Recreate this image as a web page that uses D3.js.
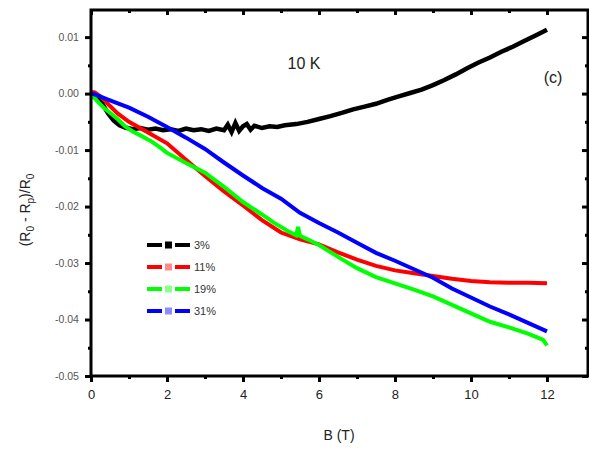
<!DOCTYPE html>
<html><head><meta charset="utf-8">
<script src="https://cdn.jsdelivr.net/npm/d3@7"></script>
<style>body{margin:0;background:#fff}svg{display:block}</style>
</head><body>
<svg id="c" width="589" height="452"></svg>
<script>
// ---- data ----
const xTicks = [0, 2, 4, 6, 8, 10, 12];
const yTicks = [0.01, 0.00, -0.01, -0.02, -0.03, -0.04, -0.05];
const yTickLabels = ["0.01", "0.00", "-0.01", "-0.02", "-0.03", "-0.04", "-0.05"];
const seriesNames = ["3%", "11%", "19%", "31%"];
const seriesColors = ["#000000", "#ff0000", "#00ff00", "#0000ff"];

const b3 = [0,0.15,0.3,0.45,0.6,0.75,0.9,1.1,1.3,1.5,1.7,1.9,2.1,2.3,2.5,2.7,2.9,3.1,3.3,3.5,3.6,3.7,3.8,3.9,4.0,4.1,4.2,4.3,4.5,4.7,4.9,5.1,5.4,5.7,6.0,6.3,6.6,6.9,7.2,7.5,7.8,8.1,8.4,8.7,9.0,9.3,9.6,9.9,10.2,10.5,10.8,11.1,11.4,11.7,12.0];
const v3 = [0,-0.0005,-0.0018,-0.0035,-0.0048,-0.0056,-0.006,-0.0063,-0.0061,-0.0064,-0.0062,-0.0065,-0.0063,-0.0066,-0.0062,-0.0065,-0.0063,-0.0066,-0.0062,-0.0065,-0.0055,-0.0068,-0.0052,-0.0066,-0.0058,-0.0054,-0.0064,-0.0057,-0.0061,-0.0058,-0.0059,-0.0056,-0.0054,-0.005,-0.0045,-0.004,-0.0034,-0.0028,-0.0023,-0.0018,-0.0011,-0.0005,0.0001,0.0007,0.0015,0.0024,0.0034,0.0045,0.0055,0.0064,0.0074,0.0083,0.0093,0.0103,0.0113];

const b11 = [0,0.1,0.3,0.5,0.7,1.0,1.5,2.0,2.5,3.0,3.5,4.0,4.5,5.0,5.5,6.0,6.5,7.0,7.5,8.0,8.5,9.0,9.5,10.0,10.5,11.0,11.5,12.0];
const v11 = [0.0003,0.0002,-0.0008,-0.0022,-0.0035,-0.005,-0.0069,-0.0088,-0.0117,-0.0146,-0.0173,-0.0198,-0.0224,-0.0246,-0.0258,-0.0267,-0.0281,-0.0294,-0.0305,-0.0313,-0.0318,-0.0323,-0.0328,-0.0332,-0.0334,-0.0335,-0.0335,-0.0336];

const b19 = [0,0.1,0.2,0.35,0.5,0.7,0.9,1.1,1.3,1.6,1.85,2.0,2.5,3.0,3.5,4.0,4.5,4.8,5.2,5.4,5.45,5.5,5.7,6.0,6.5,7.0,7.5,8.0,8.5,9.0,9.5,10.0,10.5,11.0,11.5,11.9,12.0];
const v19 = [-0.0005,-0.0008,-0.0016,-0.0026,-0.0034,-0.0045,-0.0058,-0.0067,-0.0074,-0.0085,-0.0097,-0.0105,-0.0123,-0.014,-0.0165,-0.0192,-0.0214,-0.0228,-0.0244,-0.0251,-0.0236,-0.0252,-0.0258,-0.0268,-0.0289,-0.0309,-0.0325,-0.0336,-0.0347,-0.0359,-0.0374,-0.0389,-0.0404,-0.0414,-0.0425,-0.0436,-0.0446];

const b31 = [0,0.2,0.5,1.0,1.5,2.0,2.5,3.0,3.5,4.0,4.5,5.0,5.5,6.0,6.5,7.0,7.5,8.0,8.5,9.0,9.5,10.0,10.5,11.0,11.5,12.0];
const v31 = [0.0001,-0.0004,-0.0012,-0.0025,-0.0041,-0.0059,-0.0078,-0.0098,-0.0122,-0.0145,-0.0167,-0.0186,-0.0211,-0.0229,-0.0246,-0.0264,-0.0282,-0.0296,-0.0311,-0.0326,-0.0345,-0.0361,-0.0377,-0.0391,-0.0406,-0.0421];

const seriesB = [b3, b11, b19, b31];
const seriesV = [v3, v11, v19, v31];

// ---- layout ----
const L = 91, R = 588, T = 10, B = 376;
const svg = d3.select("#c");
const x = d3.scaleLinear().domain([0, 13.08]).range([L, R]);
const y = d3.scaleLinear().domain([-0.05, 0.0148]).range([B, T]);

// data lines (clipped)
svg.append("clipPath").attr("id","clip").append("rect").attr("x",L).attr("y",T).attr("width",R-L).attr("height",B-T);
const g = svg.append("g").attr("clip-path","url(#clip)");
const line = d3.line().x(d => x(d[0])).y(d => y(d[1]));
seriesB.forEach((bs, i) => {
  const pts = bs.map((b, j) => [b, seriesV[i][j]]);
  g.append("path").datum(pts).attr("d", line)
    .attr("fill","none").attr("stroke", seriesColors[i])
    .attr("stroke-width", i === 0 ? 4.5 : 4).attr("stroke-linejoin","miter");
});

// axes
const minorX = d3.range(1, 13, 2);
const minorY = [0.005, -0.005, -0.015, -0.025, -0.035, -0.045];

const bottom = svg.append("g").attr("transform", `translate(0,${B})`)
  .call(d3.axisBottom(x).tickValues(xTicks).tickSize(6).tickFormat(d3.format("d")));
bottom.selectAll("text").attr("font-family","Arial, Liberation Sans, sans-serif").attr("font-size",13).attr("fill","#222").attr("dy","1.05em");
svg.append("g").attr("transform", `translate(0,${B})`)
  .call(d3.axisBottom(x).tickValues(minorX).tickSize(3).tickFormat(""));

const left = svg.append("g").attr("transform", `translate(${L},0)`)
  .call(d3.axisLeft(y).tickValues(yTicks).tickSize(6).tickFormat((d,i) => yTickLabels[i]));
left.selectAll("text").attr("font-family","Arial, Liberation Sans, sans-serif").attr("font-size",10.5).attr("fill","#555").attr("dx","-0.3em");
svg.append("g").attr("transform", `translate(${L},0)`)
  .call(d3.axisLeft(y).tickValues(minorY).tickSize(3).tickFormat(""));

svg.append("g").attr("transform", `translate(0,${T})`)
  .call(d3.axisTop(x).tickValues(xTicks).tickSize(-5).tickFormat(""));
svg.append("g").attr("transform", `translate(0,${T})`)
  .call(d3.axisTop(x).tickValues(minorX).tickSize(-3).tickFormat(""));
svg.append("g").attr("transform", `translate(${R},0)`)
  .call(d3.axisRight(y).tickValues(yTicks).tickSize(-6).tickFormat(""));
svg.append("g").attr("transform", `translate(${R},0)`)
  .call(d3.axisRight(y).tickValues(minorY).tickSize(-3).tickFormat(""));

svg.selectAll(".domain").remove();
svg.selectAll(".tick line").attr("stroke","#000").attr("stroke-width",3);

svg.append("rect").attr("x",L).attr("y",T).attr("width",R-L).attr("height",B-T)
  .attr("fill","none").attr("stroke","#000").attr("stroke-width",3);

// texts
const ff = "Arial, Liberation Sans, sans-serif";
svg.append("text").attr("x",304).attr("y",69).attr("text-anchor","middle")
  .attr("font-family",ff).attr("font-size",16).attr("fill","#222").text("10 K");
svg.append("text").attr("x",553).attr("y",83).attr("text-anchor","middle")
  .attr("font-family",ff).attr("font-size",16).attr("fill","#222").text("(c)");
svg.append("text").attr("x",339).attr("y",440).attr("text-anchor","middle")
  .attr("font-family",ff).attr("font-size",14).attr("fill","#222").text("B (T)");

const yl = svg.append("text").attr("transform","translate(30,210) rotate(-90)")
  .attr("text-anchor","middle").attr("font-family",ff).attr("font-size",14).attr("fill","#222");
yl.append("tspan").text("(R");
yl.append("tspan").attr("font-size",10).attr("dy",4).text("0");
yl.append("tspan").attr("dy",-4).text(" - R");
yl.append("tspan").attr("font-size",10).attr("dy",4).text("p");
yl.append("tspan").attr("dy",-4).text(")/R");
yl.append("tspan").attr("font-size",10).attr("dy",4).text("0");

// legend
const legY = [245, 267, 289, 311];
seriesNames.forEach((n, i) => {
  const lg = svg.append("g");
  lg.append("line").attr("x1",147).attr("x2",162).attr("y1",legY[i]).attr("y2",legY[i])
    .attr("stroke",seriesColors[i]).attr("stroke-width",4);
  lg.append("line").attr("x1",175).attr("x2",190).attr("y1",legY[i]).attr("y2",legY[i])
    .attr("stroke",seriesColors[i]).attr("stroke-width",4);
  lg.append("rect").attr("x",165).attr("y",legY[i]-3.5).attr("width",7).attr("height",7)
    .attr("fill",seriesColors[i]).attr("opacity", i === 0 ? 1 : 0.45);
  lg.append("text").attr("x",194).attr("y",legY[i]+4).attr("font-family",ff)
    .attr("font-size",11).attr("fill","#333").text(n);
});
</script>
</body></html>
